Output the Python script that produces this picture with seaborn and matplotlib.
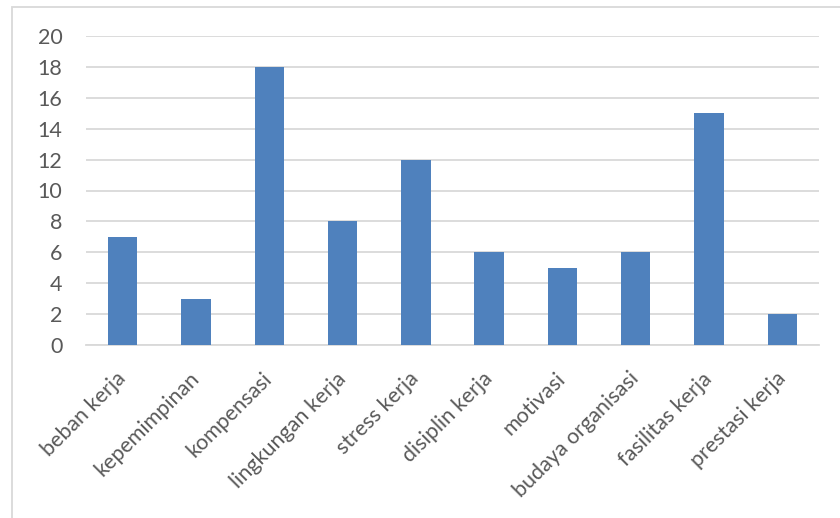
import matplotlib
matplotlib.use("Agg")
import matplotlib.pyplot as plt
import seaborn as sns
import pandas as pd
from matplotlib.patches import Rectangle

categories = ["beban kerja", "kepemimpinan", "kompensasi", "lingkungan kerja", "stress kerja",
              "disiplin kerja", "motivasi", "budaya organisasi", "fasilitas kerja", "prestasi kerja"]
values = [7, 3, 18, 8, 12, 6, 5, 6, 15, 2]
yticks = [0, 2, 4, 6, 8, 10, 12, 14, 16, 18, 20]

sns.set_style("white")
plt.rcParams['font.family'] = ['Lato', 'DejaVu Sans']

W, H = 840, 518
fig = plt.figure(figsize=(W / 100, H / 100), dpi=100)
ax = fig.add_axes([86 / W, 1 - 345 / H, (819 - 86) / W, (345 - 36) / H])

df = pd.DataFrame({"cat": categories, "val": values})
sns.barplot(data=df, x="cat", y="val", color="#4F81BD", saturation=1, width=0.4, ax=ax,
            zorder=3, edgecolor="#4F81BD", linewidth=0)

ax.set_ylim(0, 20)
ax.set_xlim(-0.5, len(categories) - 0.5)
ax.set_yticks(yticks)
ax.yaxis.grid(True, color="#D9D9D9", linewidth=1.3, zorder=0)
ax.set_axisbelow(True)
for s in ["top", "right", "left"]:
    ax.spines[s].set_visible(False)
ax.spines["bottom"].set_color("#D9D9D9")
ax.spines["bottom"].set_linewidth(1.3)
ax.set_xlabel("")
ax.set_ylabel("")
ax.tick_params(axis="both", length=0, colors="#595959", labelsize=15.5)
ax.tick_params(axis="y", pad=17)
ax.set_xticks(range(len(categories)))
ax.set_xticklabels(categories, rotation=45, ha="right", va="center", rotation_mode="anchor")
ax.tick_params(axis="x", pad=22)

fig.patches.append(Rectangle((12 / W, -0.1), 1.0, 1 - 7 / H + 0.1, transform=fig.transFigure,
                             fill=False, edgecolor="#D9D9D9", linewidth=1.3))

fig.savefig("out.png", dpi=100)
